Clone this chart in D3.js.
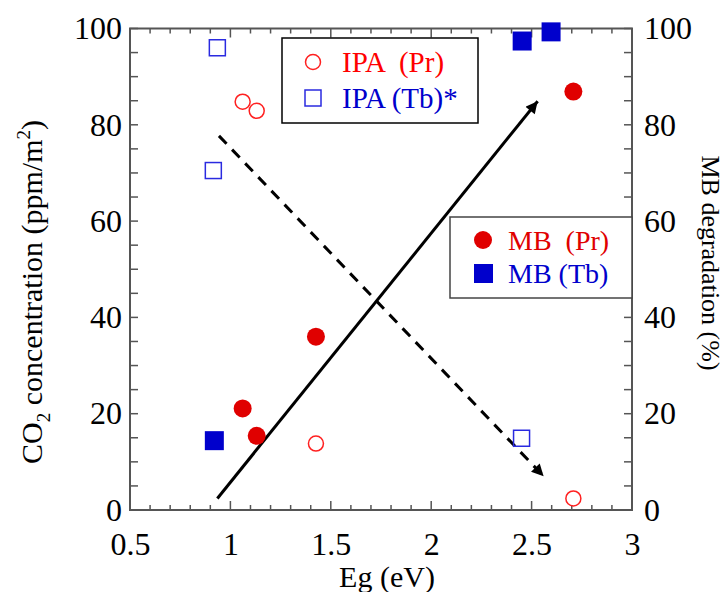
<!DOCTYPE html>
<meta charset="utf-8">
<style>
  body { margin: 0; background: #fff; }
  text { font-family: "Liberation Serif", "Times New Roman", serif; }
</style>
<body>
<script src="https://cdn.jsdelivr.net/npm/d3@7"></script>
<script>
// IPA (CO2, left axis)
var ipaPr = [[1.061, 84.8], [1.131, 82.9], [1.426, 13.8], [2.708, 2.4]];
var ipaTb = [[0.935, 96.0], [0.915, 70.5], [2.45, 14.9]];
// MB degradation (right axis)
var mbPr = [[1.061, 21.1], [1.131, 15.4], [1.426, 36.0], [2.708, 86.9]];
var mbTb = [[0.92, 14.4], [2.453, 97.4], [2.597, 99.3]];
// trend arrows
var arrowUp = [[0.935, 2.4], [2.53, 84.9]];
var arrowDown = [[0.943, 77.7], [2.56, 7.0]];

var xTicks = [0.5, 1, 1.5, 2, 2.5, 3];
var yTicks = [0, 20, 40, 60, 80, 100];

var width = 726, height = 592;
var mLeft = 130, mRight = 632, mTop = 28.5, mBottom = 510;

var x = d3.scaleLinear().domain([0.5, 3]).range([mLeft, mRight]);
var y = d3.scaleLinear().domain([0, 100]).range([mBottom, mTop]);
var y2 = d3.scaleLinear().domain([0, 100]).range([mBottom, mTop]);

var svg = d3.select("body").append("svg")
    .attr("width", width)
    .attr("height", height);

var red = "#e00000", blue = "#0000cc";

svg.append("defs").append("marker")
    .attr("id", "head")
    .attr("viewBox", "0 0 10 10")
    .attr("refX", 10).attr("refY", 5)
    .attr("markerWidth", 5).attr("markerHeight", 4)
    .attr("markerUnits", "strokeWidth")
    .attr("orient", "auto")
  .append("path")
    .attr("d", "M0,0L10,5L0,10z")
    .attr("fill", "#000");

// ticks drawn by hand (inward)
var axisColor = "#555";
var g = svg.append("g");
d3.range(0.5, 3.0001, 0.1).forEach(function(v) {
  var major = Math.abs(v * 2 - Math.round(v * 2)) < 1e-6;
  var len = major ? 9 : 5;
  g.append("line").attr("x1", x(v)).attr("x2", x(v)).attr("y1", mBottom).attr("y2", mBottom - len);
  g.append("line").attr("x1", x(v)).attr("x2", x(v)).attr("y1", mTop).attr("y2", mTop + len);
});
d3.range(0, 100.001, 5).forEach(function(v) {
  g.append("line").attr("x1", mLeft).attr("x2", mLeft + 8).attr("y1", y(v)).attr("y2", y(v));
  g.append("line").attr("x1", mRight).attr("x2", mRight - 8).attr("y1", y2(v)).attr("y2", y2(v));
});
g.selectAll("line").attr("stroke", axisColor).attr("stroke-width", 1.5);

svg.append("rect")
    .attr("x", mLeft).attr("y", mTop)
    .attr("width", mRight - mLeft).attr("height", mBottom - mTop)
    .attr("fill", "none").attr("stroke", axisColor).attr("stroke-width", 2);

// tick labels via axes (tick lines hidden)
var fs = "32px";
function styleAxis(s) {
  s.select(".domain").remove();
  s.selectAll("text").attr("font-size", fs).attr("font-family", "Liberation Serif").attr("fill", "#000");
}
svg.append("g").attr("transform", "translate(0," + mBottom + ")")
    .call(d3.axisBottom(x).tickValues(xTicks).tickSize(0).tickPadding(22).tickFormat(d3.format("")))
    .call(styleAxis);
svg.append("g").attr("transform", "translate(" + mLeft + ",0)")
    .call(d3.axisLeft(y).tickValues(yTicks).tickSize(0).tickPadding(8))
    .call(styleAxis);
svg.append("g").attr("transform", "translate(" + mRight + ",0)")
    .call(d3.axisRight(y2).tickValues(yTicks).tickSize(0).tickPadding(12))
    .call(styleAxis);

// axis titles
svg.append("text").attr("x", (mLeft + mRight) / 2 + 6).attr("y", 587)
    .attr("text-anchor", "middle").attr("font-size", "30px").text("Eg (eV)");
var yt = svg.append("text").attr("transform", "translate(42,292) rotate(-90)")
    .attr("text-anchor", "middle").attr("font-size", "30px");
yt.append("tspan").text("CO");
yt.append("tspan").attr("font-size", "19px").attr("dy", 8).text("2");
yt.append("tspan").attr("dy", -8).text(" concentration (ppm/m");
yt.append("tspan").attr("font-size", "19px").attr("dy", -12).text("2");
yt.append("tspan").attr("dy", 12).text(")");
svg.append("text").attr("transform", "translate(702,263) rotate(90)")
    .attr("text-anchor", "middle").attr("font-size", "26px").text("MB degradation (%)");

// arrows
function arrow(pts, dashed) {
  svg.append("line")
      .attr("x1", x(pts[0][0])).attr("y1", y(pts[0][1]))
      .attr("x2", x(pts[1][0])).attr("y2", y(pts[1][1]))
      .attr("stroke", "#000").attr("stroke-width", 3)
      .attr("stroke-dasharray", dashed ? "11,8" : null)
      .attr("marker-end", "url(#head)");
}
arrow(arrowUp, false);
arrow(arrowDown, true);

// markers
svg.selectAll(".ipapr").data(ipaPr).enter().append("circle")
    .attr("cx", function(d) { return x(d[0]); }).attr("cy", function(d) { return y(d[1]); })
    .attr("r", 7.5).attr("fill", "none").attr("stroke", "#ff2020").attr("stroke-width", 1.5);
svg.selectAll(".ipatb").data(ipaTb).enter().append("rect")
    .attr("x", function(d) { return x(d[0]) - 8; }).attr("y", function(d) { return y(d[1]) - 8; })
    .attr("width", 16).attr("height", 16)
    .attr("fill", "none").attr("stroke", "#2a2ae0").attr("stroke-width", 1.5);
svg.selectAll(".mbpr").data(mbPr).enter().append("circle")
    .attr("cx", function(d) { return x(d[0]); }).attr("cy", function(d) { return y2(d[1]); })
    .attr("r", 9).attr("fill", red);
svg.selectAll(".mbtb").data(mbTb).enter().append("rect")
    .attr("x", function(d) { return x(d[0]) - 9.5; }).attr("y", function(d) { return y2(d[1]) - 9.5; })
    .attr("width", 19).attr("height", 19).attr("fill", blue);

// legend 1
var l1 = svg.append("g");
l1.append("rect").attr("x", 282).attr("y", 38).attr("width", 196).attr("height", 85)
    .attr("fill", "#fff").attr("stroke", "#000").attr("stroke-width", 1.5);
l1.append("circle").attr("cx", 313).attr("cy", 62).attr("r", 7.5)
    .attr("fill", "none").attr("stroke", "#ff2020").attr("stroke-width", 1.5);
l1.append("text").attr("x", 342).attr("y", 72).attr("font-size", "29px").attr("fill", "#ff0000")
    .style("white-space", "pre").text("IPA  (Pr)");
l1.append("rect").attr("x", 305).attr("y", 90).attr("width", 16).attr("height", 16)
    .attr("fill", "none").attr("stroke", "#2a2ae0").attr("stroke-width", 1.5);
l1.append("text").attr("x", 342).attr("y", 108).attr("font-size", "29px").attr("fill", blue)
    .text("IPA (Tb)*");

// legend 2
var l2 = svg.append("g");
l2.append("rect").attr("x", 450).attr("y", 217).attr("width", 182).attr("height", 81)
    .attr("fill", "#fff").attr("stroke", "#444").attr("stroke-width", 1.5);
l2.append("circle").attr("cx", 483).attr("cy", 240).attr("r", 9).attr("fill", red);
l2.append("text").attr("x", 508).attr("y", 250).attr("font-size", "28px").attr("fill", red)
    .style("white-space", "pre").text("MB  (Pr)");
l2.append("rect").attr("x", 474).attr("y", 264).attr("width", 19).attr("height", 19).attr("fill", blue);
l2.append("text").attr("x", 508).attr("y", 283).attr("font-size", "28px").attr("fill", blue)
    .text("MB (Tb)");
</script>
</body>
